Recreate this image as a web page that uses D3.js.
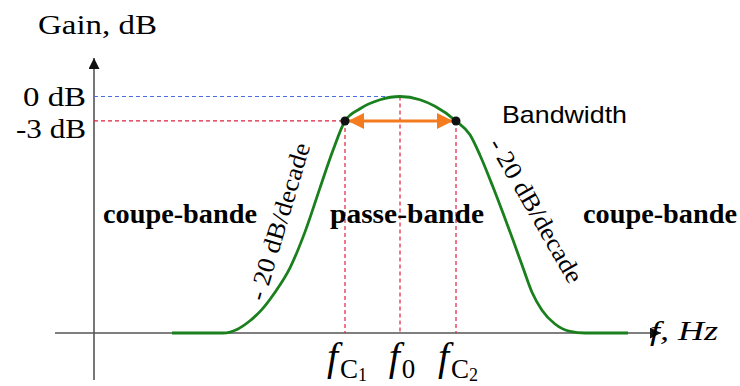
<!DOCTYPE html>
<html>
<head>
<meta charset="utf-8">
<script src="https://cdn.jsdelivr.net/npm/d3@7"></script>
<style>
  body { margin: 0; background: #fff; }
  text { font-family: "Liberation Serif", "Times New Roman", serif; }
</style>
</head>
<body>
<div id="chart"></div>
<script>
// Band-pass response: log10(f) vs gain in dB
const logFreq = [0.72, 1.23, 1.38, 1.50, 1.62, 1.75, 1.90, 2.05, 2.20, 2.33, 2.45, 2.60, 2.80, 3.00,
                 3.20, 3.35, 3.56, 3.70, 3.80, 3.93, 4.03, 4.13, 4.23, 4.32, 4.42, 4.55, 4.70, 4.85, 5.28];
const gainDb = [-29, -29, -28.5, -27.5, -26.1, -24.0, -21.0, -16.6, -11.2, -6.6, -3.0, -1.5, -0.4, 0,
                -0.4, -1.2, -3.0, -4.7, -7.2, -11.1, -14.3, -17.6, -21.0, -24.0, -26.2, -27.9, -28.8, -29, -29];

// marker frequencies (log10) and their labels
const markers = [
  {name: "fc1", log: 2.45, gain: -3, sub: "C", subsub: "1"},
  {name: "f0",  log: 3.00, gain: 0,  sub: "0", subsub: ""},
  {name: "fc2", log: 3.56, gain: -3, sub: "C", subsub: "2"}
];
const gainTicks = [{v: 0, label: "0 dB"}, {v: -3, label: "-3 dB"}];
const regionLabels = ["coupe-bande", "passe-bande", "coupe-bande"];
const slopeLabel = "- 20 dB/decade";

const W = 740, H = 386;
const x = d3.scaleLinear().domain([0, 6]).range([100, 700]);
const y = d3.scaleLinear().domain([0, -29]).range([96.5, 333]);
const axisX = 94, floorY = y(-29);

const svg = d3.select("#chart").append("svg")
  .attr("width", W).attr("height", H);

const defs = svg.append("defs");
defs.append("marker").attr("id", "axisArrow")
  .attr("viewBox", "0 0 10 10").attr("refX", 10).attr("refY", 5)
  .attr("markerWidth", 14).attr("markerHeight", 11).attr("markerUnits", "userSpaceOnUse")
  .attr("orient", "auto")
  .append("path").attr("d", "M0,0 L10,5 L0,10 Z").attr("fill", "#111");
defs.append("marker").attr("id", "bwArrow")
  .attr("viewBox", "0 0 10 10").attr("refX", 10).attr("refY", 5)
  .attr("markerWidth", 21).attr("markerHeight", 16).attr("markerUnits", "userSpaceOnUse")
  .attr("orient", "auto-start-reverse")
  .append("path").attr("d", "M0,0 L10,5 L0,10 Z").attr("fill", "#f47b20");

//Axes
svg.append("line")
  .attr("x1", 55).attr("y1", floorY).attr("x2", 661).attr("y2", floorY)
  .attr("stroke", "#555").attr("stroke-width", 1.6)
  .attr("marker-end", "url(#axisArrow)");
svg.append("line")
  .attr("x1", axisX).attr("y1", 380).attr("x2", axisX).attr("y2", 58)
  .attr("stroke", "#555").attr("stroke-width", 1.6)
  .attr("marker-end", "url(#axisArrow)");

//Dashed guides
const guides = svg.append("g").attr("fill", "none").attr("stroke-width", 1.2).attr("stroke-dasharray", "4,3");
guides.append("line")
  .attr("x1", axisX).attr("x2", x(3)).attr("y1", y(0)).attr("y2", y(0))
  .attr("stroke", "#4a6ee0");
guides.append("line")
  .attr("x1", axisX).attr("x2", x(markers[0].log)).attr("y1", y(-3)).attr("y2", y(-3))
  .attr("stroke", "#e0203c");
guides.selectAll(".vguide").data(markers).enter().append("line")
  .attr("x1", d => x(d.log)).attr("x2", d => x(d.log))
  .attr("y1", d => y(d.gain)).attr("y2", floorY)
  .attr("stroke", "#e0203c");

//Response curve
const line = d3.line()
  .x((d, i) => x(logFreq[i]))
  .y(d => y(d))
  .curve(d3.curveMonotoneX);
svg.append("path")
  .attr("d", line(gainDb))
  .attr("fill", "none").attr("stroke", "#1a801e").attr("stroke-width", 2.8);

//Bandwidth arrow + dots
const bw = [markers[0], markers[2]];
svg.append("line")
  .attr("x1", x(bw[0].log) + 3).attr("x2", x(bw[1].log) - 3)
  .attr("y1", y(-3)).attr("y2", y(-3))
  .attr("stroke", "#f47b20").attr("stroke-width", 3)
  .attr("marker-start", "url(#bwArrow)").attr("marker-end", "url(#bwArrow)");
svg.selectAll(".dot").data(bw).enter().append("circle")
  .attr("cx", d => x(d.log)).attr("cy", d => y(d.gain)).attr("r", 4.5)
  .attr("fill", "#111");

//Texts
svg.append("text").attr("x", 38).attr("y", 34)
  .attr("font-size", 27).attr("textLength", 119).attr("lengthAdjust", "spacingAndGlyphs")
  .text("Gain, dB");
svg.selectAll(".gtick").data(gainTicks).enter().append("text")
  .attr("x", 86).attr("y", d => y(d.v) + (d.v === 0 ? 9.5 : 17))
  .attr("text-anchor", "end").attr("font-size", 28)
  .attr("textLength", d => d.v === 0 ? 63 : 70).attr("lengthAdjust", "spacingAndGlyphs")
  .text(d => d.label);

svg.append("text").attr("x", 502).attr("y", 123)
  .style("font-family", "'Liberation Sans', Arial, sans-serif")
  .attr("font-size", 24).attr("textLength", 125).attr("lengthAdjust", "spacingAndGlyphs")
  .text("Bandwidth");

const regionX = [103, 330, 583];
svg.selectAll(".region").data(regionLabels).enter().append("text")
  .attr("x", (d, i) => regionX[i]).attr("y", 223)
  .attr("font-size", 27).attr("font-weight", "bold")
  .attr("textLength", 154).attr("lengthAdjust", "spacingAndGlyphs")
  .text(d => d);

// slope labels
svg.append("text")
  .attr("transform", "translate(264,302) rotate(-73.5)")
  .attr("font-size", 25).attr("textLength", 163).attr("lengthAdjust", "spacingAndGlyphs")
  .text(slopeLabel);
svg.append("text")
  .attr("transform", "translate(488,144) rotate(60)")
  .attr("font-size", 25).attr("textLength", 163).attr("lengthAdjust", "spacingAndGlyphs")
  .text(slopeLabel);

// frequency axis label
svg.append("text").attr("x", 650).attr("y", 340)
  .attr("font-size", 27).attr("font-style", "italic")
  .attr("textLength", 68).attr("lengthAdjust", "spacingAndGlyphs")
  .text("f, Hz");

// marker labels
const ml = svg.selectAll(".mlabel").data(markers).enter().append("text")
  .attr("x", d => x(d.log) + 2).attr("y", 370).attr("text-anchor", "middle");
ml.append("tspan").attr("font-style", "italic").attr("font-size", 40).text("f");
ml.append("tspan").attr("font-size", 27).attr("dy", 8).attr("dx", 2).text(d => d.sub);
ml.append("tspan").attr("font-size", 18).attr("dy", 3).text(d => d.subsub);
</script>
</body>
</html>
